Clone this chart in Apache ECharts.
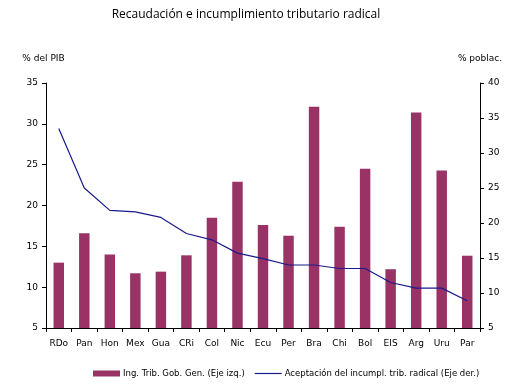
<!DOCTYPE html>
<html><head><meta charset="utf-8">
<script src="https://cdn.jsdelivr.net/npm/echarts@6/dist/echarts.min.js"></script>
<style>html,body{margin:0;padding:0;background:#fff}#c{width:523px;height:388px}</style>
</head><body><div id="c"></div>
<script>
const categories = ["RDo","Pan","Hon","Mex","Gua","CRi","Col","Nic","Ecu","Per","Bra","Chi","Bol","EIS","Arg","Uru","Par"];
const taxRevenue = [13.0,16.6,14.0,11.7,11.9,13.9,18.5,22.9,17.6,16.3,32.1,17.4,24.5,12.2,31.4,24.3,13.85];
const acceptance = [33.5,25.0,21.8,21.6,20.8,18.5,17.6,15.7,14.9,14.0,14.0,13.5,13.5,11.5,10.7,10.7,8.9];
const leftTicks = {min:5,max:35,interval:5};
const rightTicks = {min:5,max:40,interval:5};
const seriesNames = ["Ing. Trib. Gob. Gen. (Eje izq.)","Aceptación del incumpl. trib. radical (Eje der.)"];

const chart = echarts.init(document.getElementById('c'), null, {renderer:'canvas'});
const axFont = {fontFamily:'DejaVu Sans', fontSize:9, color:'#000'};
chart.setOption({
  animation:false,
  backgroundColor:'#fff',
  title:{text:'Recaudación e incumplimiento tributario radical', left:241, top:4, textAlign:'center',
    textStyle:{fontFamily:'Open Sans', fontSize:12, fontWeight:'normal', color:'#000'}},
  grid:{left:46, right:43, top:83, bottom:60},
  legend:{bottom:5, left:88, itemWidth:27, itemHeight:6, itemGap:10, selectedMode:false,
    textStyle:{fontFamily:'DejaVu Sans', fontSize:8.5, color:'#000', padding:[0,0,0,-2]},
    data:[{name:seriesNames[0], icon:'rect'},
          {name:seriesNames[1], icon:'path://M0,0L27,0L27,1.2L0,1.2Z', itemHeight:1.2}]},
  xAxis:{type:'category', data:categories, boundaryGap:true,
    axisLine:{lineStyle:{color:'#000'}}, axisTick:{show:true, inside:false, length:4, alignWithLabel:false, lineStyle:{color:'#000'}},
    axisLabel:{...axFont, margin:11}},
  yAxis:[
    {type:'value', name:'% del PIB', nameLocation:'end', nameGap:20, nameTextStyle:{...axFont, align:'center', padding:[0,0,0,-5]},
     min:leftTicks.min, max:leftTicks.max, interval:leftTicks.interval,
     axisLine:{show:true, lineStyle:{color:'#000'}}, axisTick:{show:true, length:4, lineStyle:{color:'#000'}},
     splitLine:{show:false}, axisLabel:{...axFont, margin:8}},
    {type:'value', name:'% poblac.', nameLocation:'end', nameGap:20, nameTextStyle:{...axFont, align:'center', padding:[0,0,0,0]},
     min:rightTicks.min, max:rightTicks.max, interval:rightTicks.interval, position:'right',
     axisLine:{show:true, lineStyle:{color:'#000'}}, axisTick:{show:true, length:4, lineStyle:{color:'#000'}},
     splitLine:{show:false}, axisLabel:{...axFont, margin:8}}
  ],
  series:[
    {name:seriesNames[0], type:'bar', yAxisIndex:0, data:taxRevenue, barWidth:'41%',
     itemStyle:{color:'#993366'}},
    {name:seriesNames[1], type:'line', yAxisIndex:1, data:acceptance, symbol:'none',
     lineStyle:{color:'#1a1a8c', width:1.2}, itemStyle:{color:'#1a1a8c'}}
  ]
});
</script></body></html>
